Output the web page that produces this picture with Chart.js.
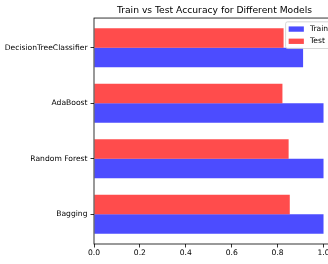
<!DOCTYPE html>
<html>
<head>
<meta charset="utf-8">
<script src="https://cdn.jsdelivr.net/npm/chart.js@4.4.0/dist/chart.umd.min.js"></script>
<style>
    html, body { margin: 0; padding: 0; overflow: hidden; background: #fff; }
    #wrap { width: 345px; height: 264px; }
</style>
</head>
<body>
<div id="wrap"><canvas id="chartAcc" width="345" height="264"></canvas></div>
<script>
/* ============================ Data  ============================ */
const models = ["DecisionTreeClassifier", "AdaBoost", "Random Forest", "Bagging"];
const trainAcc = [0.911, 1.0, 1.0, 1.0];
const testAcc = [0.826, 0.821, 0.848, 0.853];
const xTicks = [0.0, 0.2, 0.4, 0.6, 0.8, 1.0];

Chart.defaults.font.family = "'DejaVu Sans', sans-serif";
Chart.defaults.color = "#000";

// frame around the plot area (matplotlib style spines)
const frame = {
    id: "frame",
    afterDatasetsDraw(chart) {
        const a = chart.chartArea;
        const ctx = chart.ctx;
        ctx.save();
        ctx.strokeStyle = "#000";
        ctx.lineWidth = 0.8;
        ctx.strokeRect(a.left, a.top, a.right - a.left, a.bottom - a.top);
        ctx.restore();
    },
};

// legend in the upper right corner, inside the axes
const boxLegend = {
    id: "boxLegend",
    afterDraw(chart) {
        const a = chart.chartArea;
        const ctx = chart.ctx;
        const fs = 7.6;
        const sets = chart.data.datasets.slice().reverse();
        ctx.save();
        ctx.font = fs + "px 'DejaVu Sans'";
        let textW = 0;
        sets.forEach((d) => (textW = Math.max(textW, ctx.measureText(d.label).width)));
        const pad = 0.4 * fs, handle = 2 * fs, gap = 0.8 * fs, rowH = 8.4, space = 0.5 * fs;
        const w = pad + handle + gap + textW + pad;
        const h = pad * 2 + rowH * sets.length + space * (sets.length - 1);
        const x0 = a.right - 0.5 * fs - w;
        const y0 = a.top + 0.5 * fs;
        ctx.beginPath();
        ctx.roundRect(x0, y0, w, h, 2);
        ctx.fillStyle = "rgba(255,255,255,0.8)";
        ctx.fill();
        ctx.strokeStyle = "#cccccc";
        ctx.lineWidth = 0.8;
        ctx.stroke();
        sets.forEach((d, i) => {
            const cy = y0 + pad + rowH / 2 + i * (rowH + space);
            ctx.fillStyle = d.backgroundColor;
            ctx.fillRect(x0 + pad, cy - 0.35 * fs, handle, 0.7 * fs);
            ctx.fillStyle = "#000";
            ctx.textBaseline = "middle";
            ctx.fillText(d.label, x0 + pad + handle + gap, cy);
        });
        ctx.restore();
    },
};

/* ============================ Chart  ============================ */
// bars sit on a numeric index axis so the outer margins match matplotlib
const chartAcc = new Chart(document.getElementById("chartAcc"), {
    type: "bar",
    data: {
        datasets: [
            {
                label: "Test",
                data: testAcc.map((v, i) => ({ x: v, y: i })),
                backgroundColor: "rgba(255, 0, 0, 0.7)",
            },
            {
                label: "Train",
                data: trainAcc.map((v, i) => ({ x: v, y: i })),
                backgroundColor: "rgba(0, 0, 255, 0.7)",
            },
        ],
    },
    options: {
        indexAxis: "y",
        responsive: false,
        animation: false,
        categoryPercentage: 0.7,
        barPercentage: 1.0,
        layout: {
            padding: { left: 0, right: 10, top: 0, bottom: 0 },
        },
        scales: {
            x: {
                type: "linear",
                min: 0,
                max: 1.05,
                afterBuildTicks: (scale) => {
                    scale.ticks = xTicks.map((v) => ({ value: v }));
                },
                afterFit: (scale) => {
                    scale.height = 20;
                },
                ticks: {
                    font: { size: 7.6 },
                    padding: 1,
                    maxRotation: 0,
                    callback: (v) => Number(v).toFixed(1),
                },
                grid: {
                    drawOnChartArea: false,
                    color: "#000",
                    tickLength: 3.5,
                    tickWidth: 0.8,
                },
                border: { display: false },
            },
            y: {
                type: "linear",
                reverse: true,
                offset: false,
                min: -0.535,
                max: models.length - 1 + 0.535,
                afterBuildTicks: (scale) => {
                    scale.ticks = models.map((m, i) => ({ value: i }));
                },
                afterFit: (scale) => {
                    scale.width = 94;
                },
                ticks: {
                    font: { size: 7.6 },
                    padding: 3,
                    callback: (v) => models[v],
                },
                grid: {
                    offset: false,
                    drawOnChartArea: false,
                    color: "#000",
                    tickLength: 3.5,
                    tickWidth: 0.8,
                },
                border: { display: false },
            },
        },
        plugins: {
            legend: { display: false },
            tooltip: { enabled: false },
            title: {
                display: true,
                fullSize: false,
                text: "Train vs Test Accuracy for Different Models",
                color: "#000",
                font: { size: 9.2, weight: "normal" },
                padding: { top: 5, bottom: 2 },
            },
        },
    },
    plugins: [frame, boxLegend],
});
</script>
</body>
</html>
